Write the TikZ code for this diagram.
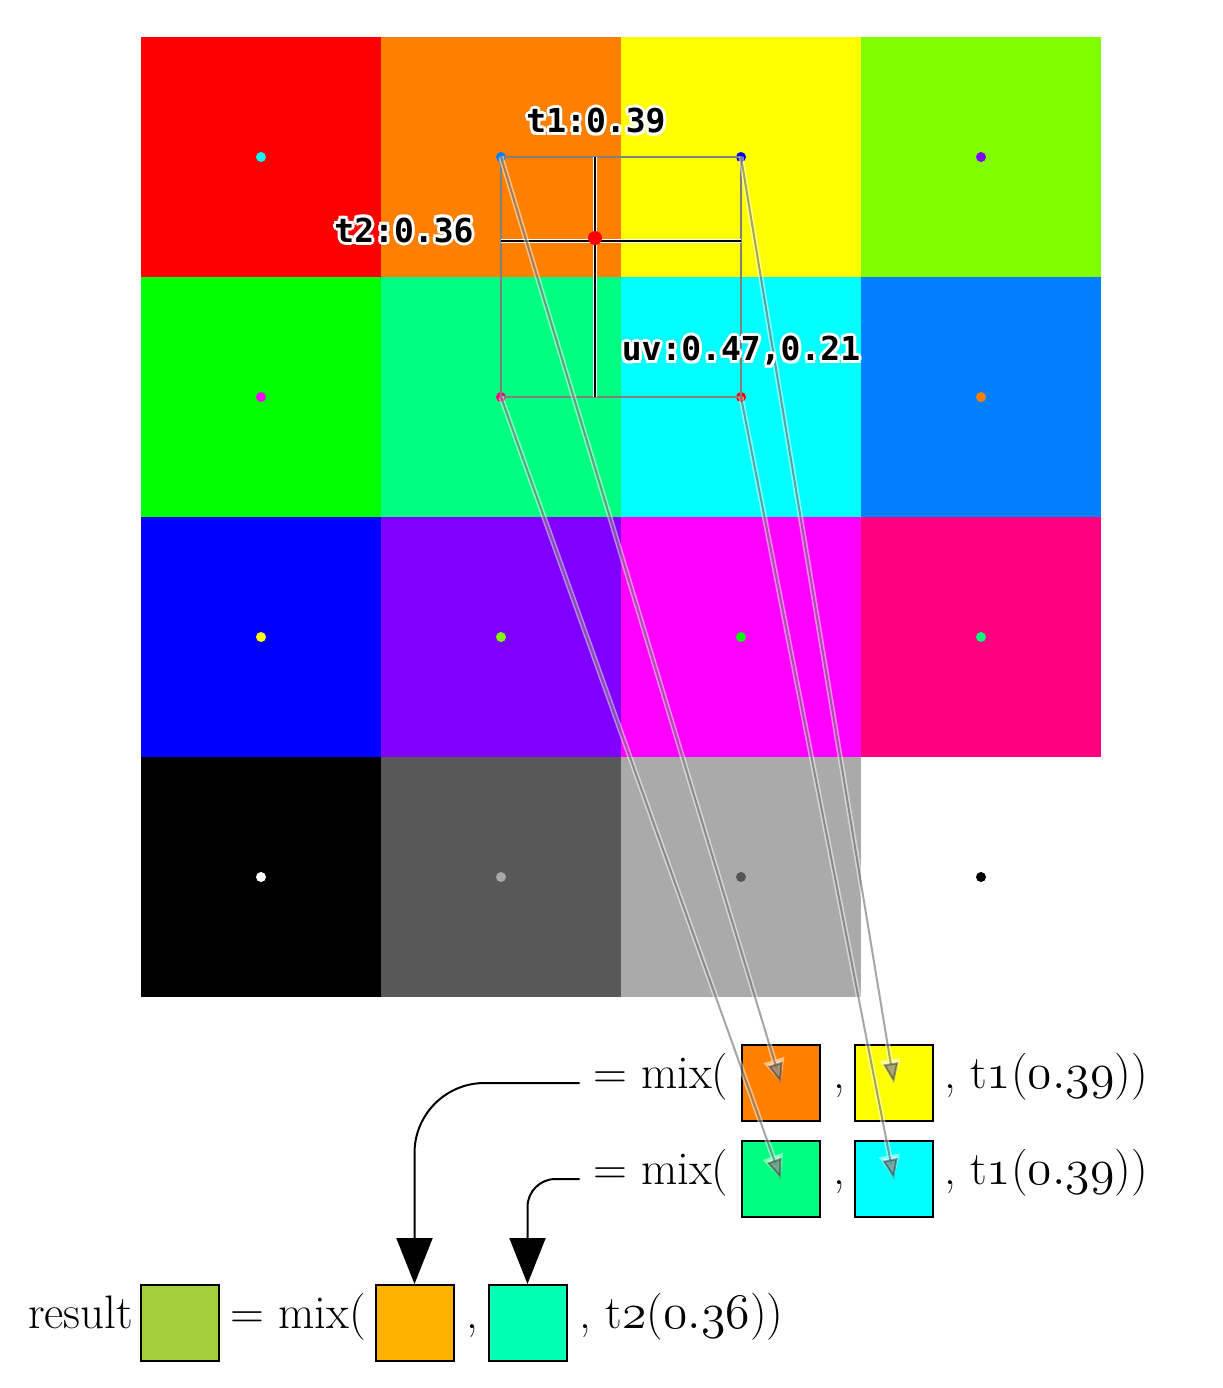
\documentclass[tikz,border=0pt]{standalone}
\usepackage{fontspec}
\newfontfamily\monofont{DejaVu Sans Mono}
\usepackage{tikz}
\usetikzlibrary{arrows.meta, positioning}
\usepackage{xcolor}
\definecolor{cRed}{RGB}{255,0,0}
\definecolor{cOrange}{RGB}{255,128,0}
\definecolor{cYellow}{RGB}{255,255,0}
\definecolor{cLime}{RGB}{128,255,0}
\definecolor{cGreen}{RGB}{0,255,0}
\definecolor{cSpring}{RGB}{0,255,128}
\definecolor{cCyan}{RGB}{0,255,255}
\definecolor{cAzure}{RGB}{0,128,255}
\definecolor{cBlue}{RGB}{0,0,255}
\definecolor{cViolet}{RGB}{128,0,255}
\definecolor{cMagenta}{RGB}{255,0,255}
\definecolor{cRose}{RGB}{255,0,128}
\definecolor{cBlack}{RGB}{0,0,0}
\definecolor{cDarkGray}{RGB}{88,88,88}
\definecolor{cLightGray}{RGB}{170,170,170}
\definecolor{cWhite}{RGB}{255,255,255}
\definecolor{cMixA}{RGB}{255,178,0}
\definecolor{cMixB}{RGB}{0,255,178}
\definecolor{cResult}{RGB}{165,206,60}
\definecolor{cFrame}{RGB}{128,128,128}
% white outline round a text
\newcommand\hcopy[2]{\rlap{\kern#1\raise#2\copy0}}
\newcommand\halo[1]{{\setbox0\hbox{#1}%
  {\color{white}\hcopy{1.5pt}{0pt}\hcopy{-1.5pt}{0pt}\hcopy{0pt}{1.5pt}\hcopy{0pt}{-1.5pt}%
   \hcopy{1.06pt}{1.06pt}\hcopy{1.06pt}{-1.06pt}\hcopy{-1.06pt}{1.06pt}\hcopy{-1.06pt}{-1.06pt}}%
  \box0}}
\tikzset{
  swatch/.style={rectangle, draw=black, line width=1pt, minimum width=39pt,
                 minimum height=38pt, inner sep=0pt},
  eqtext/.style={inner sep=0pt, text height=0.75em, text depth=0.25em,
                 font=\fontsize{23.5}{27}\selectfont},
  tag/.style={inner sep=0pt, font=\monofont\bfseries\fontsize{16.5}{18}\selectfont},
  hairback/.style={white, line width=2.2pt},
  hairfront/.style={black, line width=0.8pt},
  ptrback/.style={white, opacity=0.5, line width=2.6pt,
                  -{Triangle[width=10pt,length=12pt]}},
  ptrfront/.style={black, opacity=0.35, line width=1pt,
                   -{Triangle[width=7.5pt,length=10pt]}},
  bigarrow/.style={-{Triangle[width=18pt,length=23pt]}, line width=1pt,
                   shorten <=6.5pt}
}
\begin{document}
\begin{tikzpicture}[x=0.5pt, y=-0.5pt]
  \useasboundingbox (0,0) rectangle (1222,1388);

  % -- texture cells and their sample points --
  \foreach \cc [count=\k from 0] in {cRed,cOrange,cYellow,cLime,
      cGreen,cSpring,cCyan,cAzure,cBlue,cViolet,cMagenta,cRose,
      cBlack,cDarkGray,cLightGray,cWhite} {
    \pgfmathtruncatemacro\col{mod(\k,4)}
    \pgfmathtruncatemacro\row{div(\k,4)}
    \colorlet{dotc}{-\cc}
    \fill[\cc] (141+240*\col,37+240*\row) rectangle ++(240,240);
    \coordinate (c-\col-\row) at (261+240*\col,157+240*\row);
    \fill[dotc] (c-\col-\row) circle (2.5pt);
  }

  % -- the four texels round the sample --
  \draw[cFrame, line width=1pt] (c-1-0) rectangle (c-2-1);
  \coordinate (hit) at (595,241);
  \draw[hairback] (hit |- c-1-0) -- (hit |- c-1-1);
  \draw[hairback] (hit -| c-1-0) -- (hit -| c-2-0);
  \draw[hairfront] (hit |- c-1-0) -- (hit |- c-1-1);
  \draw[hairfront] (hit -| c-1-0) -- (hit -| c-2-0);
  \fill[red] (595,238) circle (3.5pt);

  % -- formula rows --
  \node[swatch, fill=cOrange] (swO) at (781,1083) {};
  \node[swatch, fill=cYellow] (swY) at (894,1083) {};
  \node[swatch, fill=cSpring] (swG) at (781,1179) {};
  \node[swatch, fill=cCyan] (swC) at (894,1179) {};

  \node[eqtext, left=6pt of swO] (mixO) {= mix(};
  \node[eqtext, right=6pt of swO] (commaO) {,};
  \node[eqtext, right=5pt of swY] (argO) {, t$\mathnormal{1}$($\mathnormal{0.39}$))};
  \node[eqtext, left=6pt of swG] (mixG) {= mix(};
  \node[eqtext, right=6pt of swG] (commaG) {,};
  \node[eqtext, right=5pt of swC] (argG) {, t$\mathnormal{1}$($\mathnormal{0.39}$))};

  \node[swatch, fill=cResult] (swRes) at (179.5,1323) {};
  \node[swatch, fill=cMixA] (swA) at (414.5,1323) {};
  \node[swatch, fill=cMixB] (swB) at (527.5,1323) {};
  \node[eqtext, left=3pt of swRes] (resLbl) {result};
  \node[eqtext, left=4pt of swA] (mixRes) {= mix(};
  \node[eqtext, right=6pt of swA] (commaR) {,};
  \node[eqtext, right=6pt of swB] (argR) {, t$\mathnormal{2}$($\mathnormal{0.36}$))};

  % -- results feed the last mix --
  \draw[bigarrow, rounded corners=35pt] (mixO.west) -| (swA.north);
  \draw[bigarrow, rounded corners=14pt] (mixG.west) -| (swB.north);

  % -- texels to their swatches --
  \foreach \src/\dst in {c-1-0/swO, c-2-0/swY, c-1-1/swG, c-2-1/swC} {
    \draw[ptrback] (\src) -- (\dst.center);
    \draw[ptrfront] (\src) -- (\dst.center);
  }

  % -- labels --
  \node[tag] (t1lbl) at (596,121) {\halo{t1:0.39}};
  \node[tag] (t2lbl) at (404,230) {\halo{t2:0.36}};
  \node[tag] (uvlbl) at (741,351) {\halo{uv:0.47,0.21}};

\end{tikzpicture}
\end{document}
